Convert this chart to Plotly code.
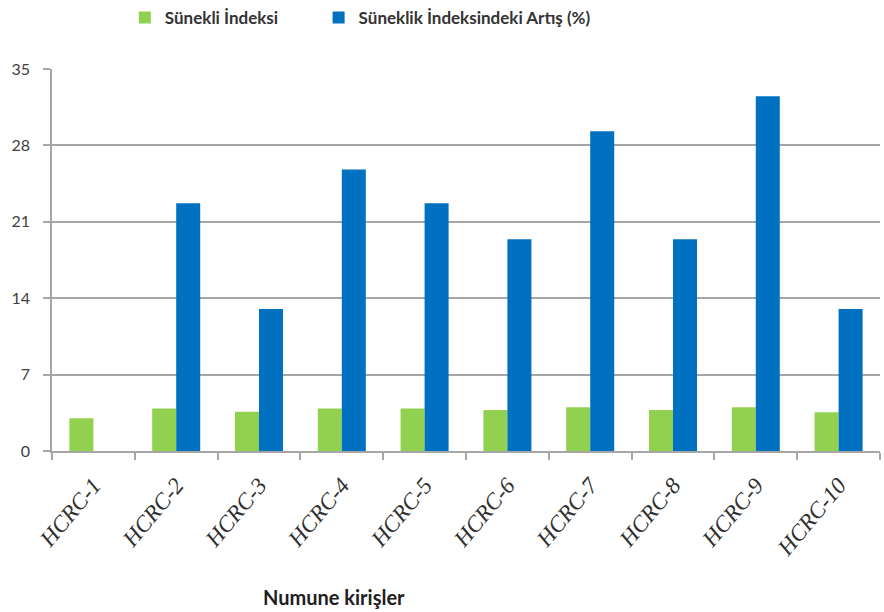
import plotly.graph_objects as go

# Specimen beams
categories = ["HCRC-1", "HCRC-2", "HCRC-3", "HCRC-4", "HCRC-5",
              "HCRC-6", "HCRC-7", "HCRC-8", "HCRC-9", "HCRC-10"]

# Ductility index of each beam
ductility_index = [3.0, 3.9, 3.6, 3.9, 3.9, 3.75, 4.0, 3.75, 4.0, 3.55]

# Increase in ductility index relative to the reference beam (%)
ductility_increase = [None, 22.7, 13.0, 25.8, 22.7, 19.4, 29.3, 19.4, 32.5, 13.0]

y_ticks = [0, 7, 14, 21, 28, 35]

GREEN = "#92d050"
BLUE = "#0070c0"
GRID = "#a6a6a6"

fig = go.Figure()
fig.add_trace(go.Bar(
    x=categories, y=ductility_index, name="Sünekli İndeksi",
    marker=dict(color=GREEN, line=dict(width=0)), legend="legend",
))
fig.add_trace(go.Bar(
    x=categories, y=ductility_increase, name="Süneklik İndeksindeki Artış (%)",
    marker=dict(color=BLUE, line=dict(width=0)), legend="legend2",
))

legend_style = dict(
    orientation="h", xanchor="left", y=1.0, yanchor="top", yref="container",
    font=dict(family="Lato", size=17, color="#333333", weight="bold"),
    itemwidth=30, bgcolor="rgba(0,0,0,0)",
)

fig.update_layout(
    width=884, height=612,
    paper_bgcolor="white", plot_bgcolor="white",
    margin=dict(l=52, r=4, t=69, b=161),
    barmode="group", bargap=0.42, bargroupgap=0,
    font=dict(family="Lato", color="#404040"),
    legend=dict(legend_style, x=0.088),
    legend2=dict(legend_style, x=0.322),
    showlegend=True,
)

fig.update_xaxes(
    type="category", range=[-0.5, 9.5],
    showline=True, linecolor=GRID, linewidth=1.5,
    ticks="outside", tickson="boundaries", ticklen=7, tickcolor=GRID, tickwidth=1.5,
    tickangle=-50, ticklabelstandoff=10,
    tickfont=dict(family="Liberation Serif", size=23, color="#303030", style="italic"),
    showgrid=False,
)
fig.update_yaxes(
    range=[0, 35], tickvals=y_ticks,
    showline=True, linecolor=GRID, linewidth=1.5,
    ticks="outside", ticklen=7, tickcolor=GRID, tickwidth=1.5,
    ticklabelstandoff=10,
    tickfont=dict(family="Lato", size=16, color="#404040"),
    showgrid=True, gridcolor=GRID, gridwidth=1.5,
    zeroline=False,
)

fig.add_annotation(
    text="Numune kirişler", xref="paper", yref="paper",
    x=(334 - 52) / 828, y=-(597 - 451) / 382, xanchor="center", yanchor="middle",
    showarrow=False,
    font=dict(family="Lato", size=20, color="#202020", weight="bold"),
)

fig.write_html("out.html")
